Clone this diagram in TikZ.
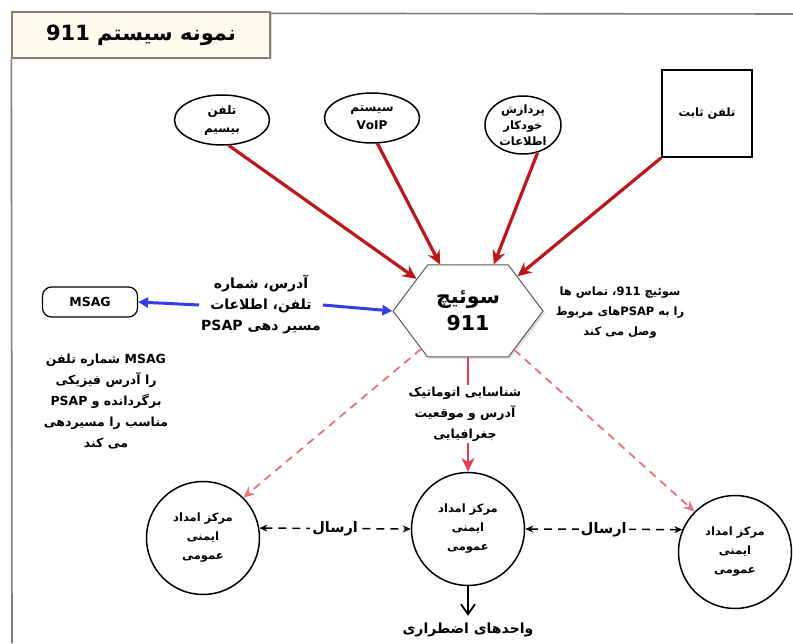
\documentclass[tikz,border=0pt]{standalone}
\usepackage{fontspec}
\newfontfamily\fafont[Script=Arabic]{DejaVu Sans}
\TeXXeTstate=1
\usepackage{xcolor}
\usetikzlibrary{positioning,arrows.meta,shapes.geometric,shapes.symbols,shadows}
\newcommand{\rtl}[1]{\beginR #1\endR}
\newcommand{\lat}[1]{\beginL #1\endL{}}
\definecolor{feedred}{RGB}{190,22,28}
\definecolor{linkblue}{RGB}{52,62,228}
\definecolor{dashred}{RGB}{232,112,122}
\definecolor{midred}{RGB}{226,62,88}
\definecolor{titlefill}{RGB}{255,250,238}
\definecolor{framegray}{RGB}{125,125,125}

\begin{document}
\begin{tikzpicture}[
  x=1pt, y=1pt,
  font=\fafont\bfseries,
  titlebox/.style={draw=framegray!80!brown, line width=1.2pt, fill=titlefill, minimum width=258pt, minimum height=46pt, drop shadow={shadow xshift=1.5pt, shadow yshift=-1.5pt, fill=gray!60}, font=\fafont\bfseries\fontsize{21}{24}\selectfont},
  src/.style={draw, ellipse, line width=1.5pt, minimum width=95pt, minimum height=50pt, inner sep=0pt, align=center, font=\fafont\bfseries\fontsize{12}{18}\selectfont},
  fixbox/.style={draw, line width=1.5pt, minimum width=90pt, minimum height=87pt, align=center, font=\fafont\bfseries\fontsize{11.5}{13}\selectfont},
  hub/.style={draw=gray!70!black, line width=1pt, fill=white, signal, signal to=east and west, signal pointer angle=106, minimum width=150pt, minimum height=92pt, inner sep=0pt, align=center, drop shadow={shadow xshift=2pt, shadow yshift=-2pt, fill=gray!50}, font=\fafont\bfseries\fontsize{20.5}{27}\selectfont},
  msagbox/.style={draw, rounded corners=9pt, line width=1.2pt, minimum width=95pt, minimum height=30pt, font=\fafont\bfseries\fontsize{12.5}{14}\selectfont},
  psap/.style={draw, circle, line width=1.5pt, minimum size=113pt, inner sep=0pt, align=center, font=\fafont\bfseries\fontsize{11.5}{19}\selectfont},
  lbl/.style={align=center, fill=white, inner sep=2pt, font=\fafont\bfseries\fontsize{12.5}{21}\selectfont},
  feed/.style={-{Stealth[length=14pt,width=13pt]}, line width=3.2pt, draw=feedred},
  link/.style={-{Triangle[length=10pt,width=10pt]}, line width=3pt, draw=linkblue},
  route/.style={-{Stealth[length=11pt,width=10pt]}, line width=1.8pt, dash pattern=on 8pt off 6pt, draw=dashred},
  send/.style={{Stealth[length=8pt,width=7pt]}-{Stealth[length=8pt,width=7pt]}, line width=1.5pt, dash pattern=on 8pt off 6pt},
  frame/.style={draw=framegray, line width=1.6pt}
]
\useasboundingbox (0,0) rectangle (793,643);

% Title and frame
\node[titlebox] (ttl) at (141,608) {\rtl{نمونه سیستم \lat{911}}};
\draw[frame] ([yshift=-2pt]ttl.north east) -- (793,629);
\draw[frame] (ttl.south west) -- (12,0);

% Sources (top row)
\node[src] (wls)  at (222,523) {\rtl{تلفن}\\\rtl{بیسیم}};
\node[src] (voip) at (372,525) {\rtl{سیستم}\\VoIP};
\node[src, minimum width=76pt, minimum height=58pt, font=\fafont\bfseries\fontsize{11.5}{16}\selectfont] (ali) at (523,518) {\rtl{پردازش}\\\rtl{خودکار}\\\rtl{اطلاعات}};
\node[fixbox] (land) at (707,529.5) {\rtl{تلفن ثابت}};

% Switch and MSAG
\node[hub] (sw) at (468,332) {\rtl{سوئیچ}\\911};
\node[msagbox] (msag) at (90,341) {MSAG};
\node[lbl, font=\fafont\bfseries\fontsize{14}{21}\selectfont] (qry)  at (261,338) {\rtl{آدرس، شماره}\\\rtl{تلفن، اطلاعات}\\\rtl{مسیر دهی \lat{PSAP}}};
\node[lbl, font=\fafont\bfseries\fontsize{11.5}{20}\selectfont] (conn) at (620,330) {\rtl{سوئیچ \lat{911}، تماس ها}\\\rtl{را به \lat{PSAP}های مربوط}\\\rtl{وصل می کند}};
\node[lbl] (back) at (106,241) {\rtl{\lat{MSAG} شماره تلفن}\\\rtl{را آدرس فیزیکی}\\\rtl{برگردانده و \lat{PSAP}}\\\rtl{مناسب را مسیردهی}\\\rtl{می کند}};

% Answering points
\node[psap] (lc) at (203,105) {\rtl{مرکز امداد}\\\rtl{ایمنی}\\\rtl{عمومی}};
\node[psap] (mc) at (468,114) {\rtl{مرکز امداد}\\\rtl{ایمنی}\\\rtl{عمومی}};
\node[psap] (rc) at (735,91)  {\rtl{مرکز امداد}\\\rtl{ایمنی}\\\rtl{عمومی}};
\node[lbl, font=\fafont\bfseries\fontsize{14}{16}\selectfont] (units) at (468,13) {\rtl{واحدهای اضطراری}};

% Calls into the switch
\draw[feed] (wls.-75) -- (sw.148);
\draw[feed] (voip.-78) -- (sw.121);
\draw[feed] (ali.-62) -- (sw.61);
\draw[feed] (land.south west) -- (sw.35);

% MSAG query
\draw[link] (qry.west) -- (msag.east);
\draw[link] (qry.east) -- (sw.west);

% Routing to the PSAPs
\draw[route] (sw.-141) -- (lc.45);
\draw[route] (sw.-40) -- (rc.135);
\draw[feed, draw=midred, line width=2.5pt] (sw.south) -- (mc.north);
\node[lbl] (loc) at (465,229) {\rtl{شناسایی اتوماتیک}\\\rtl{آدرس و موقعیت}\\\rtl{جغرافیایی}};

% Transfers between PSAPs
\draw[send] (lc.10) -- (mc.west) node[lbl, midway, font=\fafont\bfseries\fontsize{14.5}{16}\selectfont] {\rtl{ارسال}};
\draw[send] (mc.east) -- (rc.157) node[lbl, midway, font=\fafont\bfseries\fontsize{14.5}{16}\selectfont] {\rtl{ارسال}};
\draw[-{Straight Barb[length=10pt,width=14pt]}, line width=1.8pt, shorten >=5pt] (mc.south) -- (units.north);
\end{tikzpicture}
\end{document}
